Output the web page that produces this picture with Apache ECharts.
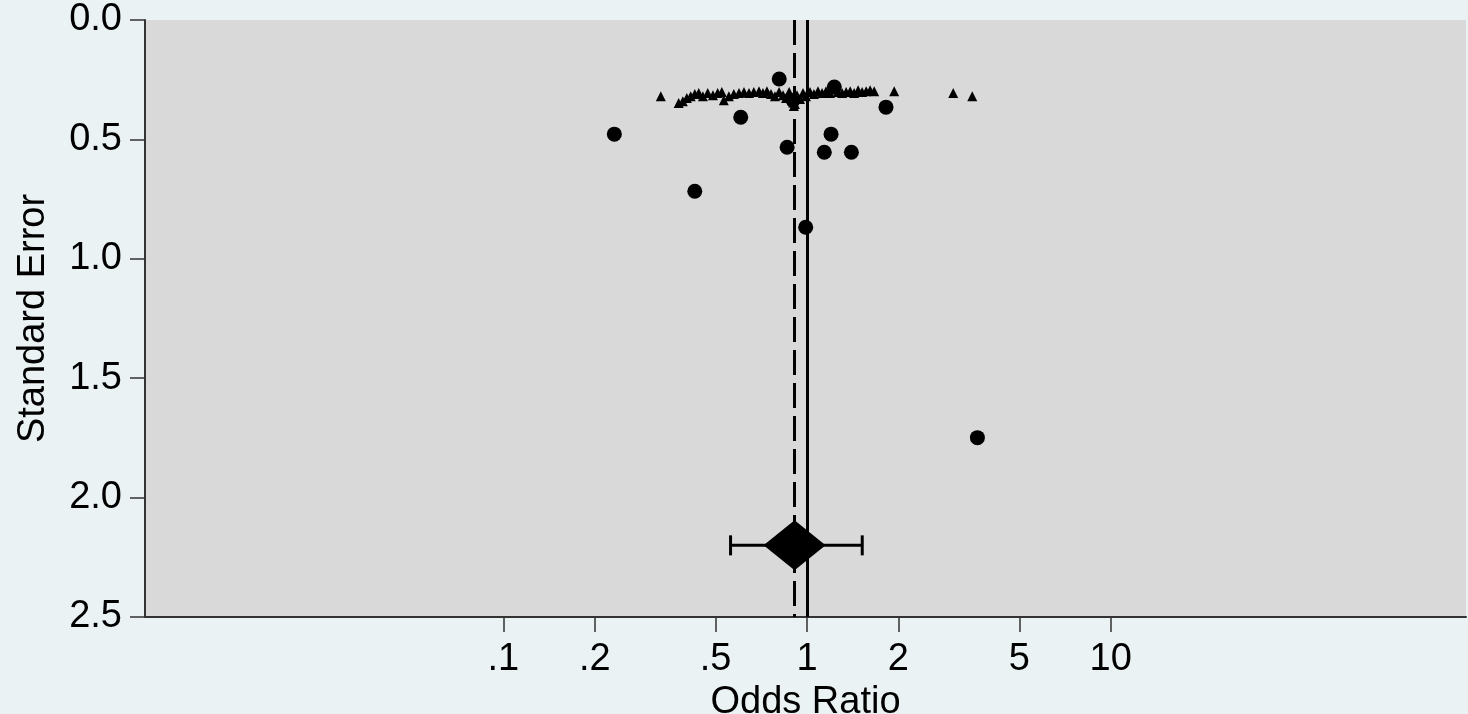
<!DOCTYPE html>
<html>
<head>
<meta charset="utf-8">
<script src="https://cdn.jsdelivr.net/npm/echarts@6/dist/echarts.min.js"></script>
<style>
  html, body { margin: 0; padding: 0; background: #EAF2F3; }
  #chart { width: 1468px; height: 714px; }
</style>
</head>
<body>
<div id="chart"></div>
<script>
// Individual studies with larger weight (filled circles): odds ratio and standard error
const studyOR = [0.81, 1.23, 1.82, 0.605, 0.232, 1.20, 0.86, 1.14, 1.40, 0.427, 0.99, 3.64, 0.90];
const studySE = [0.247, 0.281, 0.365, 0.407, 0.478, 0.478, 0.533, 0.554, 0.554, 0.717, 0.868, 1.749, 0.336];

// Small-weight studies (small triangles)
const smallOR = [0.330, 0.378, 0.390, 0.402, 0.414, 0.427, 0.440, 0.454, 0.471, 0.490,
                 0.508, 0.524, 0.532, 0.553, 0.574, 0.597, 0.620, 0.644, 0.668, 0.695,
                 0.716, 0.738, 0.761, 0.784, 0.809, 0.834, 0.853, 0.873, 0.892, 0.912,
                 0.927, 0.948, 0.970, 0.992, 1.023, 1.054, 1.087, 1.121, 1.155, 1.191,
                 1.265, 1.305, 1.345, 1.387, 1.429, 1.473, 1.519, 1.566, 1.614, 1.664,
                 1.937, 3.03, 3.50, 0.900, 0.905];
const smallSE = [0.319, 0.348, 0.340, 0.327, 0.319, 0.310, 0.306, 0.319, 0.306, 0.315,
                 0.306, 0.302, 0.336, 0.319, 0.310, 0.306, 0.302, 0.306, 0.302, 0.298,
                 0.306, 0.298, 0.310, 0.319, 0.302, 0.315, 0.327, 0.302, 0.336, 0.352,
                 0.315, 0.331, 0.306, 0.319, 0.302, 0.310, 0.298, 0.306, 0.298, 0.306,
                 0.302, 0.306, 0.302, 0.298, 0.306, 0.294, 0.302, 0.298, 0.294, 0.298,
                 0.298, 0.306, 0.319, 0.345, 0.360];

// Pooled estimate with its confidence interval, drawn at a fixed SE position
const pooledOR = 0.91;
const pooledLow = 0.56;
const pooledHigh = 1.52;
const pooledY = 2.2;
const nullOR = 1;

// Axis ticks
const xTicks = [0.1, 0.2, 0.5, 1, 2, 5, 10];

const FONT = 'Liberation Sans';
const zip = (a, b) => a.map((v, i) => [v, b[i]]);

const chart = echarts.init(document.getElementById('chart'), null, { renderer: 'canvas' });

chart.setOption({
  backgroundColor: '#EAF2F3',
  animation: false,
  grid: {
    left: 145, right: 2, top: 20, bottom: 97,
    outerBoundsMode: 'none',
    containLabel: false,
    show: true, backgroundColor: '#D9D9D9', borderWidth: 0
  },
  xAxis: {
    type: 'log',
    logBase: 10,
    min: Math.pow(10, -2.18),
    max: Math.pow(10, 2.17),
    name: 'Odds Ratio',
    nameLocation: 'middle',
    nameGap: 60,
    nameTextStyle: { fontFamily: FONT, fontSize: 38, color: '#000' },
    axisLine: { show: true, onZero: false, lineStyle: { color: '#333', width: 2 } },
    axisTick: { show: true, customValues: xTicks, length: 15, lineStyle: { color: '#333', width: 1.5 } },
    axisLabel: {
      show: true,
      customValues: xTicks,
      margin: 24,
      fontFamily: FONT, fontSize: 38, color: '#000',
      formatter: v => (v < 1 ? String(+v.toPrecision(3)).replace(/^0\./, '.') : String(Math.round(v)))
    },
    splitLine: { show: false },
    minorTick: { show: false }
  },
  yAxis: {
    type: 'value',
    inverse: true,
    min: 0, max: 2.5, interval: 0.5,
    name: 'Standard Error',
    nameLocation: 'middle',
    nameGap: 92,
    nameRotate: 90,
    nameTextStyle: { fontFamily: FONT, fontSize: 38, color: '#000' },
    axisLine: { show: true, onZero: false, lineStyle: { color: '#333', width: 2 } },
    axisTick: { show: true, length: 15, lineStyle: { color: '#333', width: 1.5 } },
    axisLabel: {
      margin: 23,
      fontFamily: FONT, fontSize: 38, color: '#000',
      formatter: v => v.toFixed(1)
    },
    splitLine: { show: false }
  },
  series: [
    {
      // reference lines: null effect and pooled estimate
      type: 'scatter',
      data: [],
      silent: true,
      markLine: {
        silent: true,
        symbol: 'none',
        label: { show: false },
        data: [
          { xAxis: nullOR, lineStyle: { color: '#000', width: 3, type: 'solid', opacity: 1 } },
          { xAxis: pooledOR, lineStyle: { color: '#000', width: 3, type: [25, 8], opacity: 1 } }
        ]
      }
    },
    {
      type: 'scatter',
      symbol: 'triangle',
      symbolSize: 10,
      itemStyle: { color: '#000', opacity: 1 },
      data: zip(smallOR, smallSE),
      z: 3
    },
    {
      type: 'scatter',
      symbol: 'circle',
      symbolSize: 15,
      itemStyle: { color: '#000', opacity: 1 },
      data: zip(studyOR, studySE),
      z: 4
    },
    {
      // confidence interval of the pooled estimate
      type: 'line',
      data: [[pooledLow, pooledY], [pooledHigh, pooledY]],
      lineStyle: { color: '#000', width: 3, opacity: 1 },
      symbol: 'rect',
      symbolSize: [3, 20],
      itemStyle: { color: '#000', opacity: 1 },
      z: 5
    },
    {
      type: 'scatter',
      symbol: 'diamond',
      symbolSize: [62, 50],
      itemStyle: { color: '#000', opacity: 1 },
      data: [[pooledOR, pooledY]],
      z: 6
    }
  ]
});
</script>
</body>
</html>
